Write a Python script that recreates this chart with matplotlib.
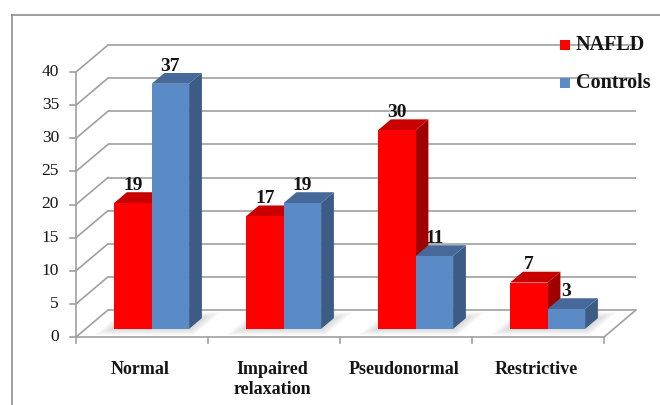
import matplotlib
matplotlib.use("Agg")
import matplotlib.pyplot as plt
from matplotlib.patches import Polygon, Rectangle
from matplotlib.lines import Line2D

# ---- data ----
categories = ["Normal", "Impaired\nrelaxation", "Pseudonormal", "Restrictive"]
nafld = [19, 17, 30, 7]
controls = [37, 19, 11, 3]
series_names = ["NAFLD", "Controls"]
yticks = [0, 5, 10, 15, 20, 25, 30, 35, 40]

# ---- styling ----
plt.rcParams["font.family"] = ["Liberation Serif", "DejaVu Serif"]
FRONT = ["#ff0000", "#5b8bc6"]
TOP = ["#c80000", "#47699a"]
SIDE = ["#a00000", "#3c5b85"]
GRID = "#a0a0a0"
TXT = "#141414"

W_PX, H_PX = 660, 405
fig = plt.figure(figsize=(W_PX / 100, H_PX / 100), dpi=100)
ax = fig.add_axes([0, 0, 1, 1])
ax.axis("off")

# front plane layout: category axis 0..4 and value axis 0..40 in pixels
X0, X4 = 76, 604
Y0, Y40 = 337, 72
sx = (X4 - X0) / len(categories)
sy = (Y0 - Y40) / 40
ax.set_xlim(-X0 / sx, (W_PX - X0) / sx)
ax.set_ylim(-(H_PX - Y0) / sy, Y0 / sy)

# oblique depth vector (full depth of the plot box) in data units
DX = 32 / sx
DY = 27 / sy
ncat = len(categories)
ymax = yticks[-1]

# outer chart frame
fig.add_artist(Line2D([12 / W_PX, 12 / W_PX], [-0.01, 1 - 15 / H_PX],
                      transform=fig.transFigure, color="#8c8c8c", lw=1.2))
fig.add_artist(Line2D([12 / W_PX, 1.01], [1 - 15 / H_PX, 1 - 15 / H_PX],
                      transform=fig.transFigure, color="#8c8c8c", lw=1.2))

# back wall gridlines and side wall diagonals
for v in yticks:
    ax.plot([DX, ncat + DX], [v + DY, v + DY], color=GRID, lw=1.2, zorder=1,
            solid_capstyle="butt")
    ax.plot([0, DX], [v, v + DY], color=GRID, lw=1.2, zorder=1)

# floor edges
ax.plot([0, ncat], [0, 0], color=GRID, lw=1.2, zorder=1)
ax.plot([ncat, ncat + DX], [0, DY], color=GRID, lw=1.2, zorder=1)
# value axis
ax.plot([0, 0], [0, ymax], color=GRID, lw=1.2, zorder=1)
tick_len_x = 6 / sx
tick_len_y = 6 / sy
for v in yticks:
    ax.plot([-tick_len_x, 0], [v, v], color=GRID, lw=1.2, zorder=1)
    ax.text(-17 / sx, v, str(v), ha="right", va="center", fontsize=12.5,
            color=TXT)
for i in range(ncat + 1):
    ax.plot([i, i], [0, -tick_len_y], color=GRID, lw=1.2, zorder=1)

# category labels
for i, lab in enumerate(categories):
    ax.text(i + 0.5 - 2 / sx, -24 / sy, lab, ha="center", va="top",
            fontsize=13, fontweight="bold", linespacing=1.25, color=TXT)

# bars
BW = 37.5 / sx
z0, z1 = 0.3, 0.7
for i in range(ncat):
    # soft floor shadow under the bar pair
    xl_all = i + 0.5 - BW
    xr_all = i + 0.5 + BW
    for k in range(6):
        e = (2 + 2 * k) / sx
        d = 0.02 + 0.04 * k
        poly = [(xl_all - e + (z0 - d) * DX, (z0 - d) * DY),
                (xr_all + e + (z0 - d) * DX, (z0 - d) * DY),
                (xr_all + e + (z1 + d) * DX, (z1 + d) * DY),
                (xl_all - e + (z1 + d) * DX, (z1 + d) * DY)]
        ax.add_patch(Polygon(poly, closed=True, fc="#808080", ec="none",
                             alpha=0.05, zorder=2))
    for s, vals in enumerate([nafld, controls]):
        v = vals[i]
        xl = i + 0.5 - BW + s * BW
        xr = xl + BW
        front = [(xl + z0 * DX, z0 * DY), (xr + z0 * DX, z0 * DY),
                 (xr + z0 * DX, v + z0 * DY), (xl + z0 * DX, v + z0 * DY)]
        top = [(xl + z0 * DX, v + z0 * DY), (xr + z0 * DX, v + z0 * DY),
               (xr + z1 * DX, v + z1 * DY), (xl + z1 * DX, v + z1 * DY)]
        side = [(xr + z0 * DX, z0 * DY), (xr + z1 * DX, z1 * DY),
                (xr + z1 * DX, v + z1 * DY), (xr + z0 * DX, v + z0 * DY)]
        zo = 3 + s
        ax.add_patch(Polygon(side, closed=True, fc=SIDE[s], ec="none", zorder=zo))
        ax.add_patch(Polygon(top, closed=True, fc=TOP[s], ec="none", zorder=zo))
        ax.add_patch(Polygon(front, closed=True, fc=FRONT[s], ec="none", zorder=zo))
        ax.text((xl + xr) / 2 + z0 * DX, v + z1 * DY + 0.35, str(v),
                ha="center", va="baseline", fontsize=14, fontweight="bold",
                color=TXT, zorder=10)

# legend
leg_rows = [45, 83]
for s, name in enumerate(series_names):
    yc = leg_rows[s]
    ax.add_patch(Rectangle((560 / W_PX, 1 - (yc + 5) / H_PX), 10 / W_PX, 10 / H_PX,
                           transform=ax.transAxes, fc=FRONT[s], ec="none", zorder=6))
    ax.text(576 / W_PX, 1 - yc / H_PX, name, transform=ax.transAxes,
            ha="left", va="center", fontsize=14.5, fontweight="bold",
            color=TXT, zorder=6)

fig.savefig("out.png", dpi=100)
